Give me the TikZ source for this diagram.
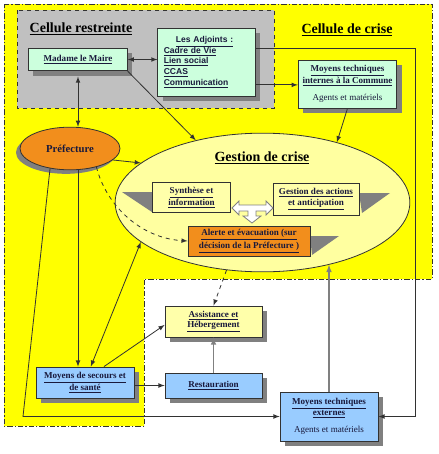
\documentclass[tikz,border=0pt]{standalone}
\usepackage{fontspec}
\setmainfont{Liberation Serif}
\newfontfamily\adjfont{Liberation Sans}
\usetikzlibrary{shapes.geometric,shadows}

\definecolor{crisejaune}{RGB}{255,255,0}
\definecolor{restgris}{RGB}{192,192,192}
\definecolor{vertpale}{RGB}{204,255,221}
\definecolor{orangepref}{RGB}{242,142,28}
\definecolor{jaunepale}{RGB}{255,255,160}
\definecolor{jauneboite}{RGB}{255,255,170}
\definecolor{bleupale}{RGB}{153,204,255}
\definecolor{ombre}{RGB}{128,128,128}
\definecolor{trait}{RGB}{50,50,50}
\definecolor{texte}{RGB}{25,25,60}

\begin{document}
\begin{tikzpicture}[x=0.75pt,y=-0.75pt,>=latex,
    boite/.style={draw=trait,line width=0.6pt,inner sep=0pt,align=center,text=texte,
      font=\fontsize{6.8}{7.8}\selectfont\bfseries},
    ombreboite/.style={drop shadow={shadow xshift=3.5pt,shadow yshift=-3.5pt,fill=ombre,opacity=1}},
    titre/.style={font=\fontsize{10.5}{12}\selectfont\bfseries,inner sep=0pt},
    lien/.style={draw=trait,line width=0.6pt}]
    \useasboundingbox (0,0) rectangle (439,454);
    \fill[white] (0,0) rectangle (439,454);
    % cellule de crise et cellule restreinte
    \fill[crisejaune] (4,4) -- (432,4) -- (432,279) -- (144,279) -- (144,426) -- (4,426) -- cycle;
    \draw[trait,line width=0.6pt,dash pattern=on 4pt off 1.5pt on 1pt off 1.5pt]
      (4,4) -- (432,4) -- (432,279) -- (144,279) -- (144,426) -- (4,426) -- cycle;
    \filldraw[fill=restgris,draw=trait,line width=0.6pt,dashed] (17,10) rectangle (274,108);
    \node[titre] (tRestreinte) at (81,29) {\underline{Cellule restreinte}};
    \node[titre] (tCrise) at (347,30) {\underline{Cellule de crise}};

    \node[boite,ombreboite,fill=vertpale,minimum width=74pt,minimum height=17pt] (maire) at (78,59.5) {\underline{Madame le Maire}};
    \node[boite,ombreboite,fill=vertpale,text width=64pt,inner xsep=4.5pt,minimum height=51pt,align=left,
      font=\adjfont\bfseries\fontsize{6.4}{8}\selectfont] (adjoints) at (206.5,62)
      {\hspace*{9pt}\underline{Les Adjoints :}\\ \underline{Cadre de Vie}\\ \underline{Lien social}\\ \underline{CCAS}\\ \underline{Communication}};
    \node[boite,ombreboite,fill=vertpale,minimum width=74pt,minimum height=36pt] (mti) at (347.5,84)
      {\underline{Moyens techniques}\\ \underline{internes à la Commune}\\[5pt] {\mdseries Agents et matériels}};

    \node[ellipse,draw=trait,line width=0.6pt,fill=orangepref,minimum width=75pt,minimum height=32pt,inner sep=0pt,
      text=texte,font=\fontsize{8}{9}\selectfont\bfseries,
      drop shadow={shadow xshift=-3pt,shadow yshift=-3pt,fill=ombre,opacity=1}] (prefecture) at (70,148.5) {Préfecture};

    % gestion de crise
    \node[ellipse,draw=trait,line width=0.6pt,fill=jaunepale,minimum width=221pt,minimum height=104pt,inner sep=0pt] (gestion) at (262.5,202.5) {};
    \node[titre] (tGestion) at (262,158) {\underline{Gestion de crise}};
    \fill[ombre] (122,192) -- (152,192) -- (152,212) -- cycle;
    \fill[ombre] (359,193) -- (390,193) -- (362,213) -- cycle;
    \fill[ombre] (310,236) -- (339,236) -- (312,255) -- cycle;
    \node[boite,fill=jauneboite,minimum width=59pt,minimum height=23pt] (synthese) at (191.5,197.5)
      {\underline{Synthèse et}\\ \underline{information}};
    \node[boite,fill=jauneboite,minimum width=64.5pt,minimum height=24pt] (actions) at (316,199)
      {\underline{Gestion des actions}\\ \underline{et anticipation}};
    \node[boite,fill=orangepref,minimum width=91.5pt,minimum height=22.5pt] (alerte) at (249,241)
      {\underline{Alerte et évacuation (sur}\\ \underline{décision de la Préfecture )}};
    \filldraw[fill=white,draw=ombre,line width=0.6pt] (232,208) -- (239,201) -- (239,205) -- (266,205) -- (266,201)
      -- (273,208) -- (266,215) -- (266,211) -- (256,211) -- (256,216) -- (261,216) -- (252,223)
      -- (243,216) -- (248,216) -- (248,211) -- (239,211) -- (239,215) -- cycle;

    % moyens
    \node[boite,ombreboite,fill=jauneboite,minimum width=72.75pt,minimum height=23.25pt] (assistance) at (213.5,321.5)
      {\underline{Assistance et}\\ \underline{Hébergement}};
    \node[boite,ombreboite,fill=bleupale,minimum width=72.75pt,minimum height=18.75pt] (restauration) at (213.5,385.5)
      {\underline{Restauration}};
    \node[boite,ombreboite,fill=bleupale,minimum width=73.5pt,minimum height=23.25pt] (secours) at (85,382.5)
      {\underline{Moyens de secours et}\\ \underline{de santé}};
    \node[boite,ombreboite,fill=bleupale,minimum width=73.5pt,minimum height=36.75pt] (mte) at (329,416.5)
      {\underline{Moyens techniques}\\ \underline{externes}\\[5pt] {\mdseries Agents et matériels}};

    \coordinate (coinSO) at (23,416.5);
    \coordinate (coinE) at (415,416.5);

    % liaisons
    \draw[lien,<->] (maire.east) -- (maire.east -| adjoints.west);
    \draw[lien,<->,shorten <=4pt] (maire.south) -- (maire.south |- prefecture.north);
    \draw[lien,->] (maire.south east) -- (gestion.137);
    \draw[lien,->] (adjoints.335) -- (adjoints.335 -| mti.west);
    \draw[lien,->] (adjoints.16) -| (coinE) -- (mte.east);
    \draw[lien,->] (mti.south) -- (gestion.39);
    \draw[lien,->] (prefecture.345) -- (gestion.162);
    \draw[lien,->,dashed] (prefecture.325) .. controls (106,205) and (140,238) .. (alerte.west);
    \draw[lien,->] (maire.south |- prefecture.south) -- (maire.south |- secours.north);
    \draw[lien,->] (prefecture.225) -- (coinSO) -- (mte.west);
    \draw[lien,<->] (secours.70) -- (gestion.198);
    \draw[lien,->] (secours.40) -- (assistance.184);
    \draw[lien,->] (secours.east |- restauration.west) -- (restauration.west);
    \draw[lien,->,draw=ombre,line width=0.9pt] (restauration.north) -- (assistance.south);
    \draw[lien,->,dashed] (gestion.242) -- (assistance.north);
    \draw[lien,->,draw=ombre,line width=0.9pt] (mte.north) -- (mte.north |- gestion.317);
\end{tikzpicture}
\end{document}
